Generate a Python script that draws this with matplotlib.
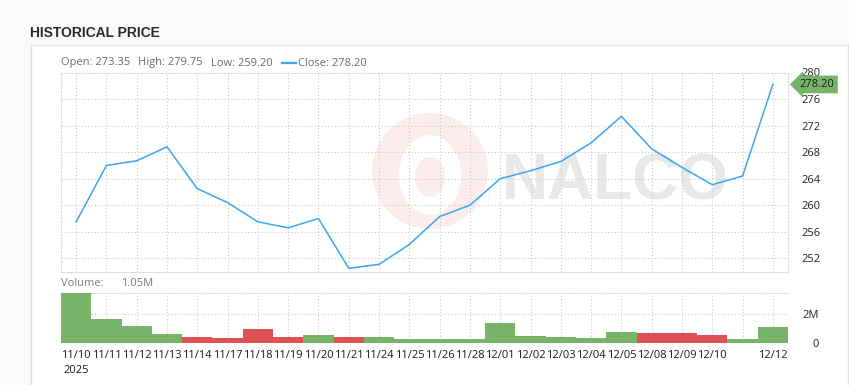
import matplotlib
matplotlib.use('Agg')
import matplotlib.pyplot as plt
from matplotlib.patches import Rectangle, Ellipse
from matplotlib.transforms import blended_transform_factory

# ---------------- data ----------------
dates = ['11/10', '11/11', '11/12', '11/13', '11/14', '11/17', '11/18', '11/19',
         '11/20', '11/21', '11/24', '11/25', '11/26', '11/28', '12/01', '12/02',
         '12/03', '12/04', '12/05', '12/08', '12/09', '12/10', '12/11', '12/12']
tick_labels = ['11/10\n2025', '11/11', '11/12', '11/13', '11/14', '11/17', '11/18', '11/19',
               '11/20', '11/21', '11/24', '11/25', '11/26', '11/28', '12/01', '12/02',
               '12/03', '12/04', '12/05', '12/08', '12/09', '12/10', '', '12/12']
close = [257.5, 266.0, 266.7, 268.8, 262.5, 260.4, 257.5, 256.6, 258.0, 250.5, 251.1, 254.1,
         258.3, 260.0, 264.0, 265.2, 266.6, 269.4, 273.4, 268.5, 265.7, 263.1, 264.4, 278.2]
volume_m = [3.48, 1.65, 1.16, 0.61, 0.40, 0.33, 0.95, 0.40, 0.54, 0.40, 0.40, 0.26,
            0.26, 0.26, 1.37, 0.47, 0.40, 0.33, 0.75, 0.70, 0.70, 0.54, 0.26, 1.09]
direction = ['up', 'up', 'up', 'up', 'down', 'down', 'down', 'down', 'up', 'down', 'up', 'up',
             'up', 'up', 'up', 'up', 'up', 'up', 'up', 'down', 'down', 'down', 'up', 'up']
price_ticks = [252, 256, 260, 264, 268, 272, 276, 280]
vol_ticks = [0, 2]
vol_tick_labels = ['0', '2M']
title = 'HISTORICAL PRICE'
legend_open, legend_high, legend_low, legend_close = '273.35', '279.75', '259.20', '278.20'
last_volume = '1.05M'

# ---------------- style ----------------
W, H = 849, 385
GREEN = '#78b36a'
RED = '#dd5353'
BLUE = '#3aa6f2'
GRID = '#c8c8c8'
plt.rcParams['font.family'] = ['Open Sans', 'DejaVu Sans']

fig = plt.figure(figsize=(W / 100, H / 100), dpi=100, facecolor='#fafafa')

def fx(px):
    return px / W

def fy(py):
    return 1 - py / H

# panel background
fig.patches.append(Rectangle((fx(31), fy(H + 5)), fx(848) - fx(31), fy(45) - fy(H + 5),
                             transform=fig.transFigure, facecolor='white',
                             edgecolor='#e2e2e2', linewidth=1.0, zorder=-5))

fig.text(fx(30), fy(33), title, fontsize=10, fontweight='bold',
         family=['Liberation Sans', 'DejaVu Sans'], color='#2b2b2b', va='center', ha='left')

x = list(range(len(dates)))

# ---------------- price axes ----------------
AX_L, AX_R, AX_T, AX_B = 61, 788, 72.5, 272.3
axp = fig.add_axes([fx(AX_L), fy(AX_B), fx(AX_R) - fx(AX_L), fy(AX_T) - fy(AX_B)])
axp.set_facecolor('none')
axp.plot(x, close, color=BLUE, linewidth=1.1, zorder=3)
axp.set_xlim(-0.5, 23.5)
axp.set_ylim(249.9, 280)
axp.set_xticks(x)
axp.set_xticklabels([])
axp.tick_params(axis='x', length=0)
axp.yaxis.tick_right()
axp.set_yticks(price_ticks)
axp.set_yticklabels([str(t) for t in price_ticks], fontsize=8, color='#222222')
axp.tick_params(axis='y', length=0, pad=10)
axp.grid(True, color=GRID, linestyle=(0, (1, 2)), linewidth=0.8)
for s in axp.spines.values():
    s.set_color('#d4d4d4')
    s.set_linestyle((0, (1, 2)))
    s.set_linewidth(0.8)
axp.spines['bottom'].set_linestyle('-')
axp.spines['bottom'].set_color('#dddddd')

# watermark (logo + word)
axw, axh = AX_R - AX_L, AX_B - AX_T
def ax_frac(px, py):
    return ((px - AX_L) / axw, (AX_B - py) / axh)

cx, cy = ax_frac(430, 171)
axp.add_patch(Ellipse((cx, cy), 116 / axw, 116 / axh, transform=axp.transAxes,
                      facecolor='#fbedeb', edgecolor='none', zorder=0.5))
axp.add_patch(Ellipse((cx, cy - 0.02), 62 / axw, 80 / axh, transform=axp.transAxes,
                      facecolor='white', edgecolor='none', zorder=0.6))
axp.add_patch(Ellipse((cx, cy - 0.03), 30 / axw, 40 / axh, transform=axp.transAxes,
                      facecolor='#fbedeb', edgecolor='none', zorder=0.7))
wx, wy = ax_frac(615, 182)
axp.text(wx, wy, 'NALCO', transform=axp.transAxes, fontsize=46, fontweight='bold',
         family=['Liberation Sans', 'DejaVu Sans'], color='#e8e8e8',
         ha='center', va='center', zorder=1)

# last price label
tr = blended_transform_factory(axp.transAxes, axp.transData)
axp.text(1.016, close[-1], legend_close, transform=tr, fontsize=8, color='#1a1a1a',
         ha='left', va='center', zorder=5,
         bbox=dict(boxstyle='larrow,pad=0.3', facecolor=GREEN, edgecolor='none'))

# legend row
fig.text(fx(61), fy(63), 'Open: ' + legend_open, fontsize=8, color='#6b6b6b', va='center')
fig.text(fx(138), fy(63), 'High: ' + legend_high, fontsize=8, color='#6b6b6b', va='center')
fig.text(fx(211), fy(63), 'Low: ' + legend_low, fontsize=8, color='#6b6b6b', va='center')
fig.lines.append(plt.Line2D([fx(282), fx(296)], [fy(62.5), fy(62.5)], transform=fig.transFigure,
                            color=BLUE, linewidth=1.6))
fig.text(fx(298), fy(63), 'Close: ' + legend_close, fontsize=8, color='#6b6b6b', va='center')

# ---------------- volume axes ----------------
axv = fig.add_axes([fx(AX_L), fy(342.7), fx(AX_R) - fx(AX_L), fy(292.7) - fy(342.7)])
axv.set_facecolor('none')
colors = [GREEN if d == 'up' else RED for d in direction]
axv.bar(x, volume_m, width=1.0, color=colors, zorder=3)
axv.set_xlim(-0.5, 23.5)
axv.set_ylim(0, 3.48)
axv.set_xticks(x)
axv.set_xticklabels(tick_labels, fontsize=8, color='#1a1a1a', linespacing=1.5)
axv.tick_params(axis='x', length=0, pad=5)
for lbl in axv.get_xticklabels():
    lbl.set_verticalalignment('top')
axv.yaxis.tick_right()
axv.set_yticks(vol_ticks)
axv.set_yticklabels(vol_tick_labels, fontsize=8, color='#222222')
axv.tick_params(axis='y', length=0, pad=22)
for lbl in axv.get_yticklabels():
    lbl.set_horizontalalignment('right')
axv.grid(True, color=GRID, linestyle=(0, (1, 2)), linewidth=0.8)
for s in axv.spines.values():
    s.set_visible(False)
axv.spines['top'].set_visible(True)
axv.spines['top'].set_color('#d4d4d4')
axv.spines['top'].set_linestyle((0, (1, 2)))

fig.text(fx(61), fy(284), 'Volume:', fontsize=8, color='#7a7a7a', va='center')
fig.text(fx(121), fy(284), last_volume, fontsize=8, color='#7a7a7a', va='center')

fig.savefig('out.png', dpi=100, facecolor=fig.get_facecolor())
